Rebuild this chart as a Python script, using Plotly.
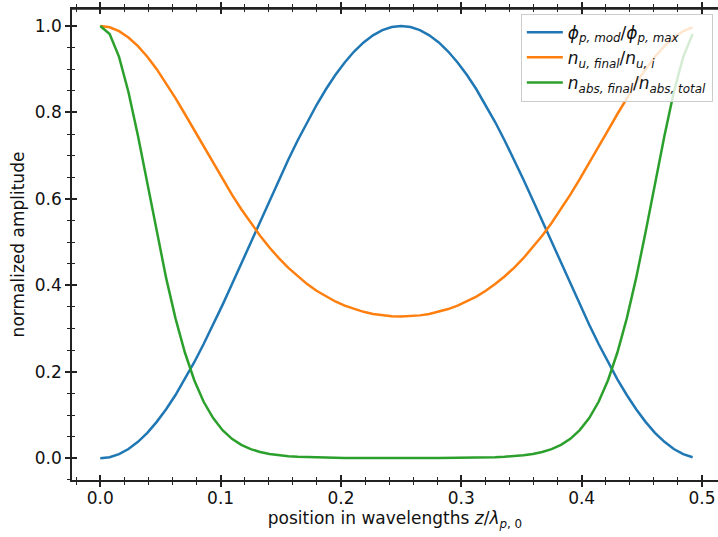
import plotly.graph_objects as go

# position in wavelengths z / lambda_p,0
x_pos = [0.0, 0.0078, 0.0156, 0.0234, 0.0313, 0.0391, 0.0469, 0.0547,
         0.0625, 0.0703, 0.0781, 0.0859, 0.0938, 0.1016, 0.1094, 0.1172,
         0.125, 0.1328, 0.1406, 0.1484, 0.1563, 0.1641, 0.1719, 0.1797,
         0.1875, 0.1953, 0.2031, 0.2109, 0.2188, 0.2266, 0.2344, 0.2422,
         0.25, 0.2578, 0.2656, 0.2734, 0.2813, 0.2891, 0.2969, 0.3047,
         0.3125, 0.3203, 0.3281, 0.3359, 0.3438, 0.3516, 0.3594, 0.3672,
         0.375, 0.3828, 0.3906, 0.3984, 0.4063, 0.4141, 0.4219, 0.4297,
         0.4375, 0.4453, 0.4531, 0.4609, 0.4688, 0.4766, 0.4844, 0.4922]

phi_norm = [0.0, 0.0024, 0.0096, 0.0215, 0.0381, 0.059, 0.0843, 0.1135,
            0.1464, 0.1828, 0.2222, 0.2643, 0.3087, 0.3549, 0.4025, 0.451,
            0.5, 0.549, 0.5975, 0.6451, 0.6913, 0.7357, 0.7778, 0.8172,
            0.8536, 0.8865, 0.9157, 0.941, 0.9619, 0.9785, 0.9904, 0.9976,
            1.0, 0.9976, 0.9904, 0.9785, 0.9619, 0.941, 0.9157, 0.8865,
            0.8536, 0.8172, 0.7778, 0.7357, 0.6913, 0.6451, 0.5975, 0.549,
            0.5, 0.451, 0.4025, 0.3549, 0.3087, 0.2643, 0.2222, 0.1828,
            0.1464, 0.1135, 0.0843, 0.059, 0.0381, 0.0215, 0.0096, 0.0024]

nu_norm = [1.0, 0.997, 0.9881, 0.9734, 0.9535, 0.9289, 0.9001, 0.8679,
           0.8331, 0.7964, 0.7586, 0.7204, 0.6826, 0.6456, 0.61, 0.5762,
           0.5444, 0.5149, 0.4877, 0.4629, 0.4406, 0.4207, 0.403, 0.3876,
           0.3742, 0.3627, 0.3531, 0.3452, 0.3388, 0.334, 0.3306, 0.3286,
           0.3279, 0.3286, 0.3306, 0.334, 0.3388, 0.3452, 0.3531, 0.3627,
           0.3742, 0.3876, 0.403, 0.4207, 0.4406, 0.4629, 0.4877, 0.5149,
           0.5444, 0.5762, 0.61, 0.6456, 0.6826, 0.7204, 0.7586, 0.7964,
           0.8331, 0.8679, 0.9001, 0.9289, 0.9535, 0.9734, 0.9881, 0.997]

nabs_norm = [1.0, 0.9816, 0.9287, 0.8472, 0.746, 0.6347, 0.5227, 0.4173,
             0.3238, 0.2447, 0.1807, 0.1307, 0.0929, 0.0651, 0.0451, 0.031,
             0.0213, 0.0146, 0.01, 0.007, 0.0049, 0.0035, 0.0025, 0.0019,
             0.0014, 0.0011, 0.0009, 0.0007, 0.0006, 0.0005, 0.0005, 0.0005,
             0.0005, 0.0005, 0.0005, 0.0005, 0.0006, 0.0007, 0.0009, 0.0011,
             0.0014, 0.0019, 0.0025, 0.0035, 0.0049, 0.007, 0.01, 0.0146,
             0.0213, 0.031, 0.0451, 0.0651, 0.0929, 0.1307, 0.1807, 0.2447,
             0.3238, 0.4173, 0.5227, 0.6347, 0.746, 0.8472, 0.9287, 0.9816]

names = [
    "<i>ϕ</i><sub><i>p, mod</i></sub>/<i>ϕ</i><sub><i>p, max</i></sub>",
    "<i>n</i><sub><i>u, final</i></sub>/<i>n</i><sub><i>u, i</i></sub>",
    "<i>n</i><sub><i>abs, final</i></sub>/<i>n</i><sub><i>abs, total</i></sub>",
]
colors = ["#1f77b4", "#ff7f0e", "#2ca02c"]
series = [phi_norm, nu_norm, nabs_norm]

x_range = [-0.0235, 0.5133]
y_range = [-0.0502, 1.0393]
FONT = "DejaVu Sans"
FS = 17

fig = go.Figure()
for ys, nm, c in zip(series, names, colors):
    fig.add_trace(go.Scatter(x=x_pos, y=ys, mode="lines", name=nm,
                             line=dict(color=c, width=2.5)))

# helper traces (one point outside the visible range) so that the
# overlaid tick-only axes are created and drawn
for xr, yr in [("x2", "y"), ("x3", "y"), ("x4", "y"), ("x", "y2")]:
    fig.add_trace(go.Scatter(x=[-1.0], y=[-1.0], xaxis=xr, yaxis=yr,
                             mode="lines", line=dict(width=0),
                             showlegend=False, hoverinfo="skip"))

axcol = "#222222"
MAJ, MIN = 5, 3


def ax_common(rng, dt, mdt, ticks, showline, labels):
    return dict(range=rng, showgrid=False, zeroline=False, automargin=False,
                showline=showline, linecolor=axcol, linewidth=1.5,
                ticks=ticks, ticklen=MAJ, tickwidth=1.6, tickcolor=axcol,
                tick0=0, dtick=dt, showticklabels=labels,
                tickfont=dict(family=FONT, size=FS, color="#111111"),
                minor=dict(ticks=ticks, ticklen=MIN, tickwidth=1.2,
                           tickcolor=axcol, tick0=0, dtick=mdt, showgrid=False))


xa = ax_common(x_range, 0.1, 0.02, "outside", True, True)
xa.update(side="bottom", tickformat=".1f", ticklabelstandoff=-3,
          title=dict(text="position in wavelengths <i>z</i>/<i>λ</i><sub><i>p</i>, 0</sub>",
                     font=dict(family=FONT, size=FS, color="#111111"), standoff=3))
xa2 = ax_common(x_range, 0.1, 0.02, "inside", False, False)
xa2.update(side="bottom", overlaying="x", anchor="y")
xa3 = ax_common(x_range, 0.1, 0.02, "outside", True, False)
xa3.update(side="top", overlaying="x", anchor="y")
xa4 = ax_common(x_range, 0.1, 0.02, "inside", False, False)
xa4.update(side="top", overlaying="x", anchor="y")

ya = ax_common(y_range, 0.2, 0.05, "outside", True, True)
ya.update(side="left", tickformat=".1f",
          title=dict(text="normalized amplitude",
                     font=dict(family=FONT, size=FS, color="#111111"), standoff=6))
ya2 = ax_common(y_range, 0.2, 0.05, "inside", False, False)
ya2.update(side="left", overlaying="y", anchor="x")

fig.update_layout(
    width=718, height=537,
    margin=dict(l=72, r=0, t=9, b=57, pad=0, autoexpand=False),
    paper_bgcolor="white", plot_bgcolor="white",
    font=dict(family=FONT, size=FS, color="#111111"),
    xaxis=xa, xaxis2=xa2, xaxis3=xa3, xaxis4=xa4,
    yaxis=ya, yaxis2=ya2,
    showlegend=True,
    legend=dict(x=0.992, y=0.99, xanchor="right", yanchor="top",
                bgcolor="rgba(255,255,255,0.8)", bordercolor="#cccccc",
                borderwidth=1, font=dict(family=FONT, size=FS, color="#111111"),
                itemwidth=36, tracegroupgap=0),
    shapes=[dict(type="line", xref="paper", yref="paper", x0=0, x1=1, y0=1, y1=1,
                 line=dict(color=axcol, width=1.5), layer="above")],
)

fig.write_html("out.html", config={"displayModeBar": False},
               post_script="document.body.style.margin='0';document.body.style.overflow='hidden';")
